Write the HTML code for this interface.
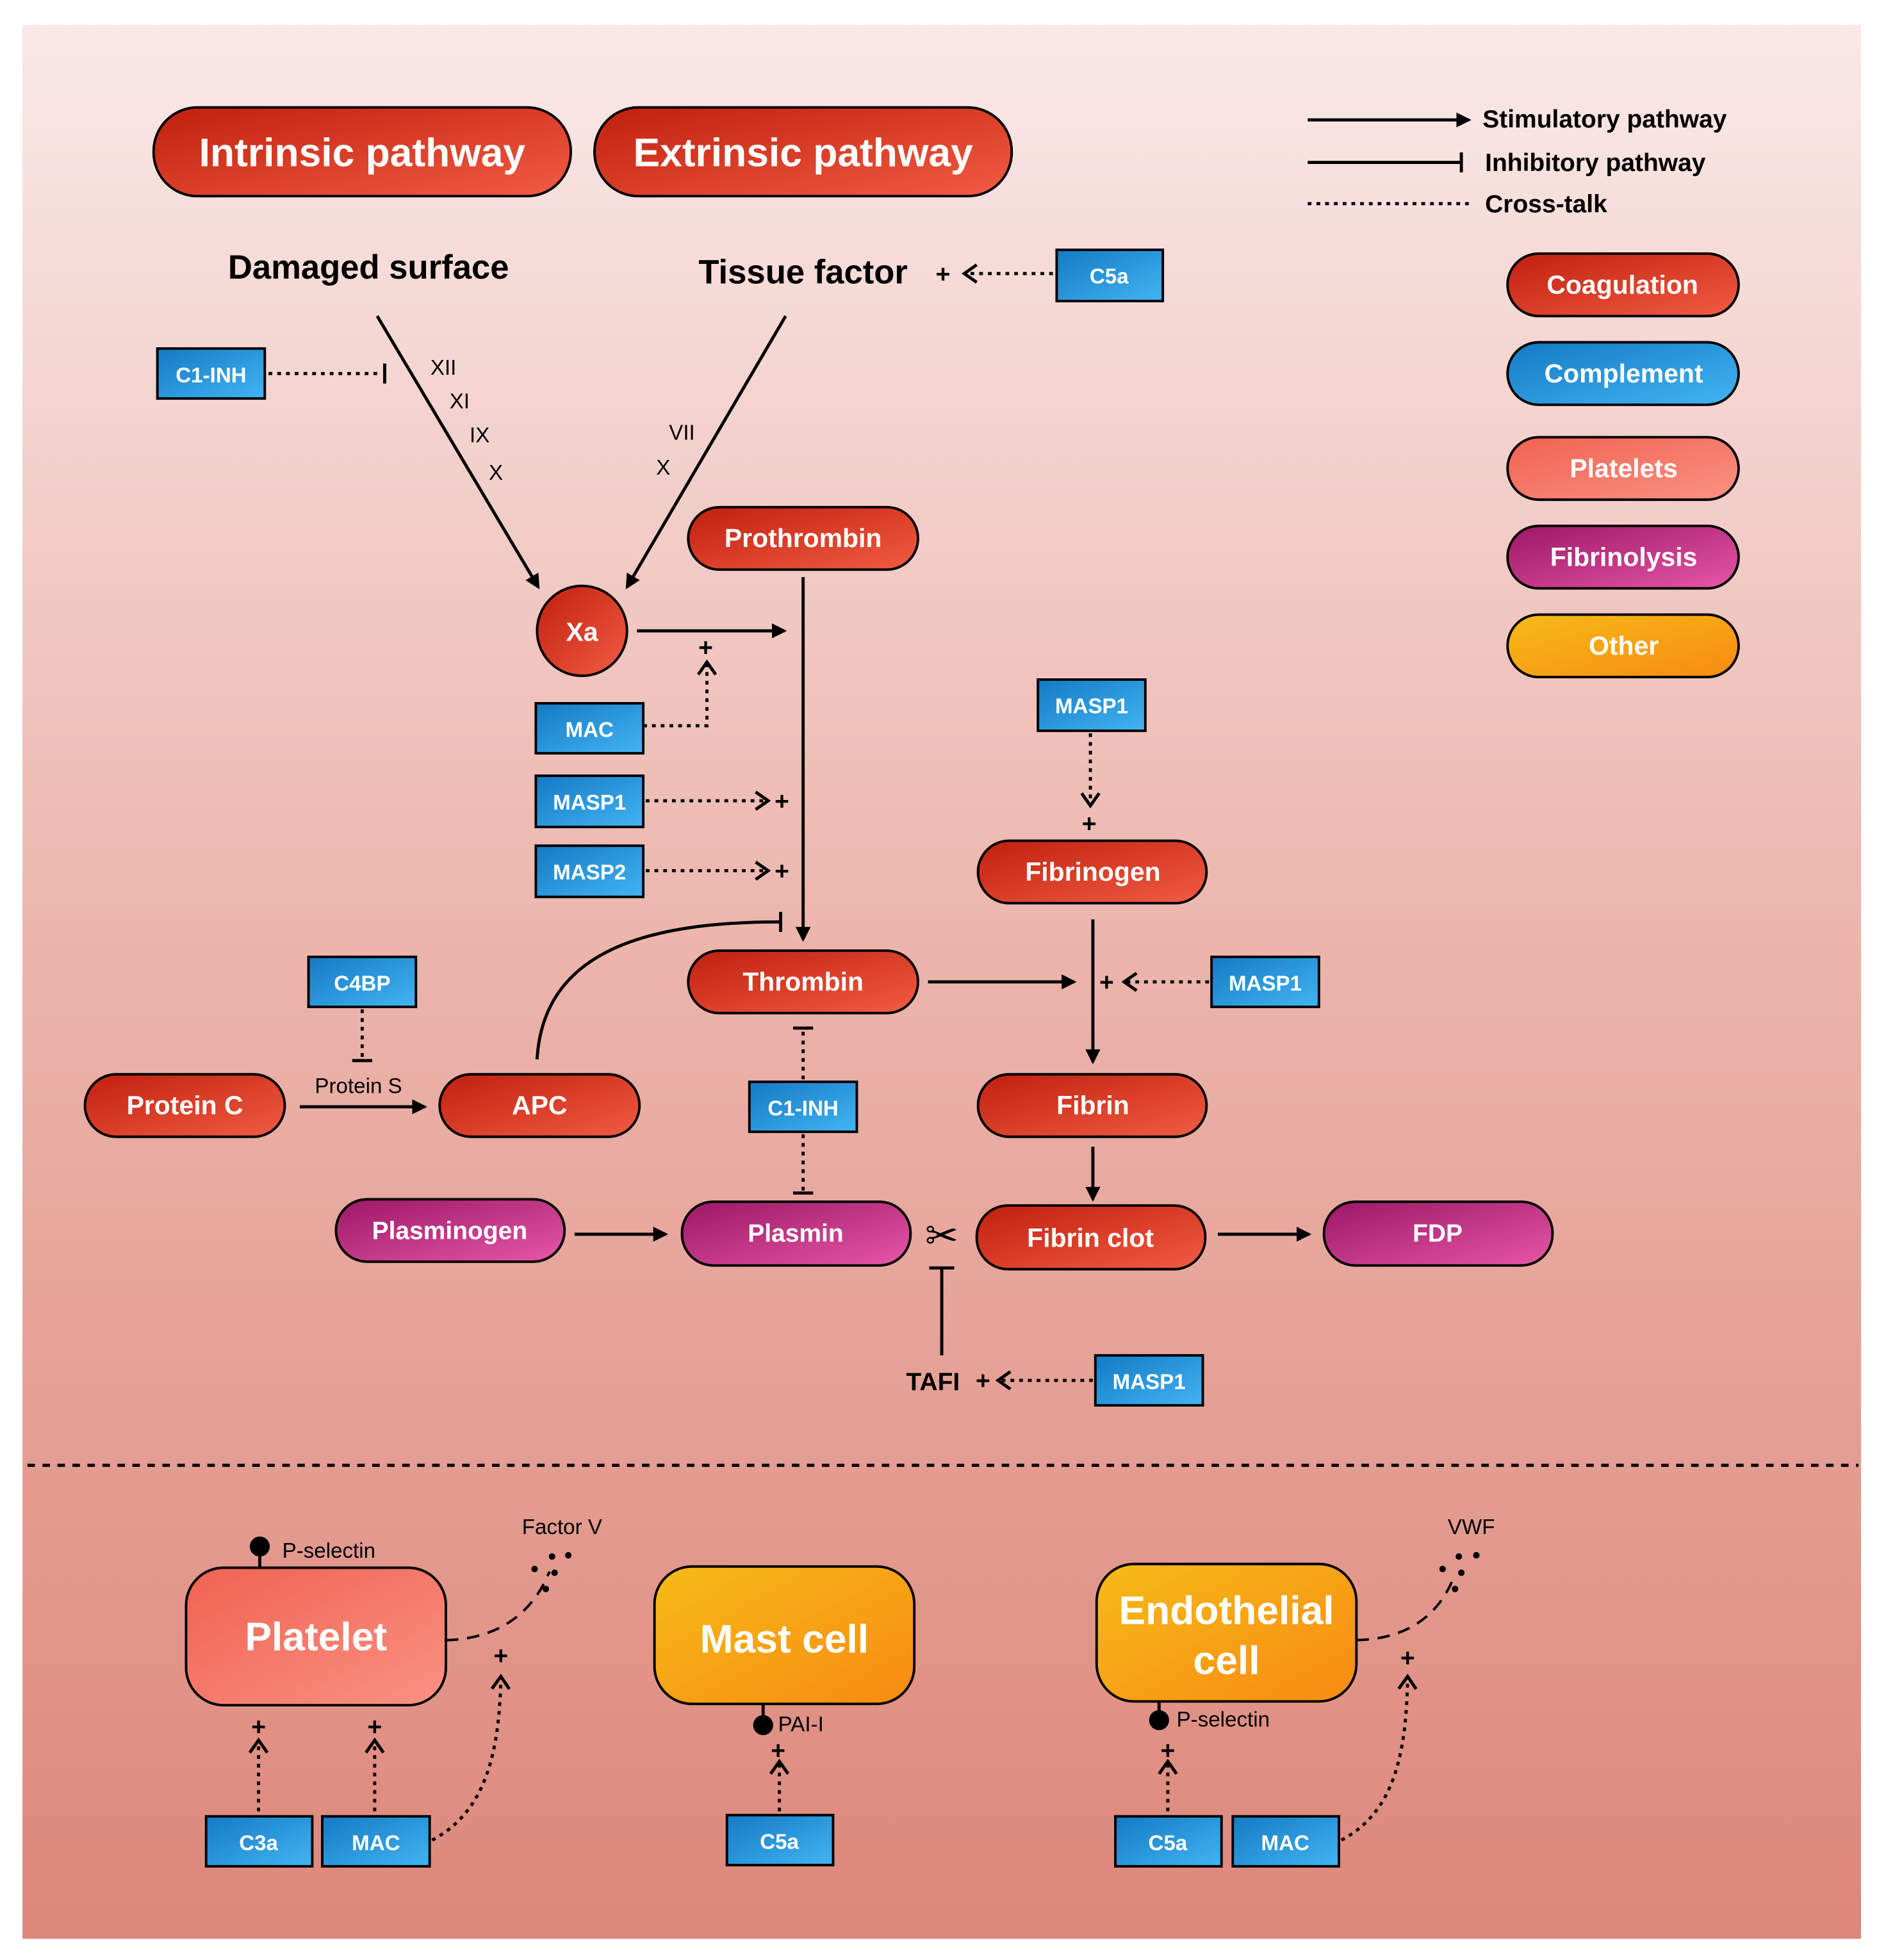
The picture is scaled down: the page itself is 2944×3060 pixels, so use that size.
<!DOCTYPE html>
<html><head><meta charset="utf-8"><style>html,body{margin:0;padding:0;background:#fff}svg{display:block}text{font-family:"Liberation Sans",sans-serif}</style></head><body>
<svg width="2944" height="3060" viewBox="0 0 1510 1569" preserveAspectRatio="none" xmlns="http://www.w3.org/2000/svg">
<defs>
<linearGradient id="bg" x1="0" y1="0" x2="0" y2="1"><stop offset="0" stop-color="#f9e9e7"/><stop offset="0.5" stop-color="#ebb3aa"/><stop offset="1" stop-color="#dd877a"/></linearGradient>
<linearGradient id="red" x1="0" y1="0" x2="1" y2="1"><stop offset="0" stop-color="#c0200e"/><stop offset="1" stop-color="#f25c43"/></linearGradient>
<linearGradient id="blue" x1="0" y1="0" x2="1" y2="1"><stop offset="0" stop-color="#147ac4"/><stop offset="1" stop-color="#42b4f2"/></linearGradient>
<linearGradient id="plt" x1="0" y1="0" x2="1" y2="1"><stop offset="0" stop-color="#f06252"/><stop offset="1" stop-color="#fa9282"/></linearGradient>
<linearGradient id="fib" x1="0" y1="0" x2="1" y2="1"><stop offset="0" stop-color="#9c1864"/><stop offset="1" stop-color="#e657a8"/></linearGradient>
<linearGradient id="oth" x1="0" y1="0" x2="1" y2="1"><stop offset="0" stop-color="#f6bb18"/><stop offset="1" stop-color="#f88a12"/></linearGradient>
<marker id="tri" markerWidth="12" markerHeight="12" refX="10" refY="6" orient="auto" markerUnits="userSpaceOnUse"><path d="M0,0 L12,6 L0,12 z" fill="#000"/></marker>
<marker id="chev" markerWidth="14" markerHeight="16" refX="12" refY="8" orient="auto" markerUnits="userSpaceOnUse"><path d="M2,1 L12,8 L2,15" fill="none" stroke="#000" stroke-width="2.5"/></marker>
</defs>
<rect width="1510" height="1569" fill="#fff"/>
<rect x="18" y="20" width="1472" height="1532" fill="url(#bg)"/>
<g stroke="#000" stroke-width="2">
<rect x="123" y="86" width="334" height="71" rx="35" fill="url(#red)"/>
<rect x="476" y="86" width="334" height="71" rx="35" fill="url(#red)"/>
<rect x="1207" y="203" width="185" height="50" rx="25" fill="url(#red)"/>
<rect x="1207" y="274" width="185" height="50" rx="25" fill="url(#blue)"/>
<rect x="1207" y="350" width="185" height="50" rx="25" fill="url(#plt)"/>
<rect x="1207" y="421" width="185" height="50" rx="25" fill="url(#fib)"/>
<rect x="1207" y="492" width="185" height="50" rx="25" fill="url(#oth)"/>
<rect x="551" y="406" width="184" height="50" rx="25" fill="url(#red)"/>
<rect x="551" y="761" width="184" height="50" rx="25" fill="url(#red)"/>
<rect x="783" y="673" width="183" height="50" rx="25" fill="url(#red)"/>
<rect x="783" y="860" width="183" height="50" rx="25" fill="url(#red)"/>
<rect x="782" y="965" width="183" height="51" rx="25" fill="url(#red)"/>
<rect x="68" y="860" width="160" height="50" rx="25" fill="url(#red)"/>
<rect x="352" y="860" width="160" height="50" rx="25" fill="url(#red)"/>
<rect x="269" y="960" width="183" height="50" rx="25" fill="url(#fib)"/>
<rect x="546" y="962" width="183" height="51" rx="25" fill="url(#fib)"/>
<rect x="1060" y="962" width="183" height="51" rx="25" fill="url(#fib)"/>
<circle cx="466" cy="505" r="36" fill="url(#red)"/>
<rect x="149" y="1255" width="208" height="110" rx="30" fill="url(#plt)"/>
<rect x="524" y="1254" width="208" height="110" rx="30" fill="url(#oth)"/>
<rect x="878" y="1252" width="208" height="110" rx="30" fill="url(#oth)"/>
<g fill="url(#blue)">
<rect x="846" y="200" width="85" height="41"/>
<rect x="126" y="279" width="86" height="40"/>
<rect x="429" y="563" width="86" height="40"/>
<rect x="429" y="621" width="86" height="41"/>
<rect x="429" y="677" width="86" height="41"/>
<rect x="831" y="544" width="86" height="41"/>
<rect x="970" y="766" width="86" height="40"/>
<rect x="247" y="766" width="86" height="40"/>
<rect x="600" y="866" width="86" height="40"/>
<rect x="877" y="1085" width="86" height="40"/>
<rect x="165" y="1454" width="85" height="40"/>
<rect x="258" y="1454" width="86" height="40"/>
<rect x="582" y="1453" width="85" height="40"/>
<rect x="893" y="1454" width="85" height="40"/>
<rect x="987" y="1454" width="85" height="40"/>
</g>
</g>
<!-- solid arrows -->
<g stroke="#000" stroke-width="2.5" fill="none">
<line x1="1047" y1="96" x2="1176" y2="96" marker-end="url(#tri)"/>
<line x1="1047" y1="130" x2="1170" y2="130"/><line x1="1170" y1="122" x2="1170" y2="138"/>
<line x1="302" y1="253" x2="431" y2="470" marker-end="url(#tri)"/>
<line x1="629" y1="253" x2="502" y2="470" marker-end="url(#tri)"/>
<line x1="510" y1="505" x2="628" y2="505" marker-end="url(#tri)"/>
<line x1="643" y1="462" x2="643" y2="752" marker-end="url(#tri)"/>
<path d="M430,848 C435,760 520,738 625,738"/><line x1="625" y1="730" x2="625" y2="746"/>
<line x1="743" y1="786" x2="860" y2="786" marker-end="url(#tri)"/>
<line x1="875" y1="736" x2="875" y2="850" marker-end="url(#tri)"/>
<line x1="875" y1="918" x2="875" y2="960" marker-end="url(#tri)"/>
<line x1="975" y1="988" x2="1048" y2="988" marker-end="url(#tri)"/>
<line x1="460" y1="988" x2="533" y2="988" marker-end="url(#tri)"/>
<line x1="240" y1="886" x2="340" y2="886" marker-end="url(#tri)"/>
<line x1="754" y1="1085" x2="754" y2="1015"/><line x1="744" y1="1015" x2="764" y2="1015"/>
<line x1="208" y1="1238" x2="208" y2="1255"/>
<line x1="611" y1="1364" x2="611" y2="1381"/>
<line x1="928" y1="1362" x2="928" y2="1377"/>
</g>
<!-- dotted -->
<g stroke="#000" stroke-width="2.5" fill="none" stroke-dasharray="3,4">
<line x1="1047" y1="163" x2="1176" y2="163"/>
<line x1="843" y1="219" x2="772" y2="219" marker-end="url(#chev)"/>
<line x1="215" y1="299" x2="306" y2="299"/>
<path d="M515,581 L566,581 L566,530" marker-end="url(#chev)"/>
<line x1="517" y1="641" x2="615" y2="641" marker-end="url(#chev)"/>
<line x1="517" y1="697" x2="615" y2="697" marker-end="url(#chev)"/>
<line x1="873" y1="587" x2="873" y2="645" marker-end="url(#chev)"/>
<line x1="968" y1="786" x2="900" y2="786" marker-end="url(#chev)"/>
<line x1="290" y1="808" x2="290" y2="848"/>
<line x1="643" y1="864" x2="643" y2="824"/>
<line x1="643" y1="908" x2="643" y2="954"/>
<line x1="875" y1="1105" x2="799" y2="1105" marker-end="url(#chev)"/>
<line x1="207" y1="1450" x2="207" y2="1393" marker-end="url(#chev)"/>
<line x1="300" y1="1450" x2="300" y2="1393" marker-end="url(#chev)"/>
<path d="M346,1473 C390,1450 400,1400 401,1342" marker-end="url(#chev)"/>
<line x1="624" y1="1450" x2="624" y2="1410" marker-end="url(#chev)"/>
<line x1="935" y1="1450" x2="935" y2="1410" marker-end="url(#chev)"/>
<path d="M1074,1473 C1118,1450 1126,1400 1127,1342" marker-end="url(#chev)"/>
</g>
<g stroke="#000" stroke-width="2.5">
<line x1="308" y1="291" x2="308" y2="307"/>
<line x1="282" y1="849" x2="298" y2="849"/>
<line x1="635" y1="823" x2="651" y2="823"/>
<line x1="635" y1="955" x2="651" y2="955"/>
</g>
<line x1="22" y1="1173" x2="1488" y2="1173" stroke="#000" stroke-width="2.5" stroke-dasharray="6,6"/>
<g stroke="#000" stroke-width="2" fill="none" stroke-dasharray="10,7">
<path d="M357,1313 C395,1312 425,1295 440,1258"/>
<path d="M1086,1313 C1125,1312 1152,1295 1165,1260"/>
</g>
<g fill="#000">
<circle cx="208" cy="1238" r="8"/><circle cx="611" cy="1381" r="8"/><circle cx="928" cy="1377" r="8"/>
<circle cx="428" cy="1256" r="2.6"/><circle cx="442" cy="1246" r="2.6"/><circle cx="455" cy="1245" r="2.6"/><circle cx="444" cy="1259" r="2.6"/><circle cx="437" cy="1272" r="2.6"/>
<circle cx="1155" cy="1256" r="2.6"/><circle cx="1168" cy="1246" r="2.6"/><circle cx="1182" cy="1245" r="2.6"/><circle cx="1170" cy="1259" r="2.6"/><circle cx="1165" cy="1272" r="2.6"/>
</g>
<g font-weight="bold" fill="#fff" text-anchor="middle">
<text x="290" y="133" font-size="32">Intrinsic pathway</text>
<text x="643" y="133" font-size="32">Extrinsic pathway</text>
<text x="1299" y="235" font-size="21">Coagulation</text>
<text x="1300" y="306" font-size="21">Complement</text>
<text x="1300" y="382" font-size="21">Platelets</text>
<text x="1300" y="453" font-size="21">Fibrinolysis</text>
<text x="1300" y="524" font-size="21">Other</text>
<text x="643" y="438" font-size="21">Prothrombin</text>
<text x="643" y="793" font-size="21">Thrombin</text>
<text x="875" y="705" font-size="21">Fibrinogen</text>
<text x="875" y="892" font-size="21">Fibrin</text>
<text x="873" y="998" font-size="21">Fibrin clot</text>
<text x="148" y="892" font-size="21">Protein C</text>
<text x="432" y="892" font-size="21">APC</text>
<text x="360" y="992" font-size="20">Plasminogen</text>
<text x="637" y="994" font-size="20">Plasmin</text>
<text x="1151" y="994" font-size="20">FDP</text>
<text x="466" y="513" font-size="21">Xa</text>
<text x="253" y="1321" font-size="32">Platelet</text>
<text x="628" y="1323" font-size="32">Mast cell</text>
<text x="982" y="1300" font-size="32">Endothelial</text>
<text x="982" y="1340" font-size="32">cell</text>
<g font-size="17">
<text x="888" y="227">C5a</text><text x="169" y="306">C1-INH</text>
<text x="472" y="590">MAC</text><text x="472" y="648">MASP1</text><text x="472" y="704">MASP2</text>
<text x="874" y="571">MASP1</text><text x="1013" y="793">MASP1</text><text x="290" y="793">C4BP</text>
<text x="643" y="893">C1-INH</text><text x="920" y="1112">MASP1</text>
<text x="207" y="1481">C3a</text><text x="301" y="1481">MAC</text><text x="624" y="1480">C5a</text>
<text x="935" y="1481">C5a</text><text x="1029" y="1481">MAC</text>
</g>
</g>
<g fill="#000">
<g font-weight="bold" font-size="20"><text x="1187" y="102">Stimulatory pathway</text><text x="1189" y="137">Inhibitory pathway</text><text x="1189" y="170">Cross-talk</text></g>
<g font-weight="bold" font-size="27" text-anchor="middle"><text x="295" y="223">Damaged surface</text><text x="643" y="227">Tissue factor</text></g>
<text x="747" y="1113" font-weight="bold" font-size="20" text-anchor="middle">TAFI</text>
<g font-size="17" text-anchor="middle">
<text x="355" y="300">XII</text><text x="368" y="327">XI</text><text x="384" y="354">IX</text><text x="397" y="384">X</text>
<text x="546" y="352">VII</text><text x="531" y="380">X</text>
<text x="287" y="875">Protein S</text>
<text x="450" y="1228">Factor V</text><text x="1178" y="1228">VWF</text>
</g>
<g font-size="17"><text x="226" y="1247">P-selectin</text><text x="623" y="1386">PAI-I</text><text x="942" y="1382">P-selectin</text></g>
<g font-weight="bold" font-size="20" text-anchor="middle">
<text x="755" y="226">+</text><text x="565" y="525">+</text><text x="626" y="648">+</text><text x="626" y="704">+</text>
<text x="872" y="666">+</text><text x="886" y="793">+</text><text x="787" y="1112">+</text>
<text x="207" y="1389">+</text><text x="300" y="1389">+</text><text x="401" y="1332">+</text>
<text x="623" y="1408">+</text><text x="935" y="1408">+</text><text x="1127" y="1334">+</text>
</g>
<text x="754" y="1000" font-size="32" text-anchor="middle">✂</text>
</g>
</svg>
</body></html>
